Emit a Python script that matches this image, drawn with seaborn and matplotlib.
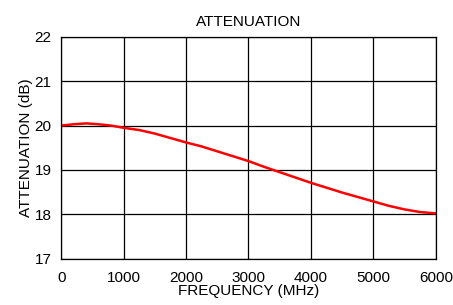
import numpy as np
import pandas as pd
import seaborn as sns
import matplotlib
matplotlib.use('Agg')
import matplotlib.pyplot as plt

# valores
frecuencia = [0, 200, 400, 600, 800, 1000, 1250, 1500, 1750, 2000, 2250, 2500, 2750,
              3000, 3250, 3500, 3750, 4000, 4250, 4500, 4750, 5000, 5250, 5500, 5750, 6000]
atenuacion = [20.0, 20.03, 20.05, 20.03, 20.0, 19.95, 19.9, 19.82, 19.72, 19.62, 19.53, 19.42, 19.31,
              19.2, 19.07, 18.95, 18.83, 18.71, 18.6, 18.49, 18.39, 18.29, 18.19, 18.11, 18.05, 18.02]
x_ticks = [0, 1000, 2000, 3000, 4000, 5000, 6000]
y_ticks = [17, 18, 19, 20, 21, 22]

df = pd.DataFrame({'freq': frecuencia, 'att': atenuacion})

sns.set_style('white')
plt.rcParams['font.family'] = ['Liberation Sans', 'DejaVu Sans']
plt.rcParams['text.color'] = 'black'
plt.rcParams['axes.labelcolor'] = 'black'
plt.rcParams['xtick.color'] = 'black'
plt.rcParams['ytick.color'] = 'black'

fig = plt.figure(figsize=(4.53, 3.05), dpi=100)
ax = fig.add_axes([0.135, 0.152, 0.827, 0.727])
sns.lineplot(data=df, x='freq', y='att', color='#ff0000', linewidth=1.8, ax=ax)

ax.set_xlim(0, 6000)
ax.set_ylim(17, 22)
ax.set_xticks(x_ticks)
ax.set_yticks(y_ticks)
ax.grid(True, color='black', linewidth=0.9)
for s in ax.spines.values():
    s.set_color('black')
    s.set_linewidth(0.9)
ax.tick_params(axis='y', length=4, width=0.9, labelsize=11, pad=3)
ax.tick_params(axis='x', length=0, labelsize=11, pad=9)
ax.set_title('ATTENUATION', fontsize=11, pad=8)
ax.set_xlabel('FREQUENCY (MHz)', fontsize=11, labelpad=-1)
ax.set_ylabel('ATTENUATION (dB)', fontsize=11, labelpad=1)

plt.savefig('out.png', dpi=100)
